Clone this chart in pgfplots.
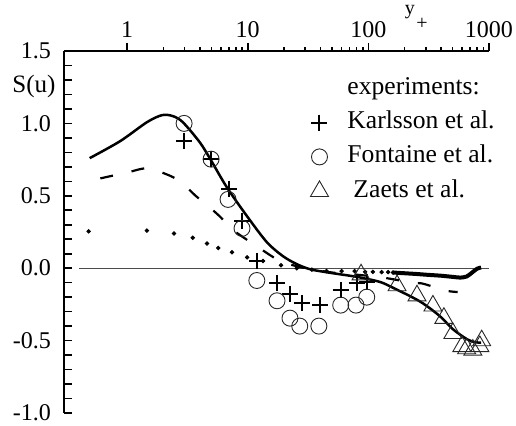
\documentclass[border=0pt]{standalone}
\usepackage{fontspec}
\setmainfont{Liberation Serif}
\usepackage{pgfplots}
\pgfplotsset{compat=1.18}
\pgfplotsset{mylegimg/.style={legend image code/.code={\path[draw=none] (-6pt,0pt) -- (12.5pt,0pt); \draw[##1] plot coordinates {(0pt,0pt)};}}}
\begin{document}
\begin{tikzpicture}
\useasboundingbox (0pt,0pt) rectangle (258pt,213pt);
\begin{axis}[
  at={(32pt,6.5pt)}, anchor=south west,
  width=212.5pt, height=181pt, scale only axis,
  xmode=log, xmin=0.3, xmax=1000, ymin=-1, ymax=1.5,
  axis x line=top, axis y line=left,
  axis line style={-, line width=1.1pt},
  xtick align=outside, ytick align=inside,
  xtick={1,10,100,1000}, xticklabels={1,10,100,1000},
  ytick={-1,-0.9,-0.8,-0.7,-0.6,-0.5,-0.4,-0.3,-0.2,-0.1,0,0.1,0.2,0.3,0.4,0.5,0.6,0.7,0.8,0.9,1,1.1,1.2,1.3,1.4,1.5},
  yticklabels={-1.0,,,,,-0.5,,,,,0.0,,,,,0.5,,,,,1.0,,,,,1.5},
  major tick length=4pt, minor tick length=2pt,
  every tick/.style={black, line width=0.8pt},
  tick label style={font=\fontsize{12}{14}\selectfont},
  yticklabel style={xshift=-3pt},
  xticklabel style={yshift=-1pt},
  clip=false,
  legend style={at={(0.572,0.94)}, anchor=north west, draw=none, fill=none,
    font=\fontsize{12.8}{15}\selectfont, inner sep=0pt, row sep=2.2pt,
    nodes={text height=9pt, text depth=3pt, inner sep=1.5pt}},
  legend cell align=left,
]
% thin zero line
\addplot[forget plot, black!70, line width=0.35pt] coordinates {(0.4,0) (1000,0)};
\addlegendimage{empty legend}
\addlegendentry{experiments:}
% solid model
\addplot[forget plot, black, line width=1.25pt, smooth, tension=0.5] coordinates {
(0.49,0.76) (0.875,0.877) (1.46,1.008) (1.95,1.057) (2.4,1.05) (2.9,1.008)
(4.0,0.87) (4.9,0.753) (6.7,0.56) (9.85,0.36) (14.4,0.18) (19.6,0.083)
(25.5,0.028) (32.8,-0.007) (45,-0.028) (74,-0.055) (90,-0.068) (125,-0.095)
(160,-0.135) (268,-0.23) (390,-0.33) (500,-0.42) (655,-0.49) (760,-0.51) (860,-0.515)};
% dashed model
\addplot[forget plot, black, line width=1.1pt, dash pattern=on 6.5pt off 9.5pt, smooth, tension=0.5] coordinates {
(0.6,0.62) (0.77,0.64) (1.0,0.66) (1.46,0.69) (2.1,0.65) (2.75,0.60) (3.7,0.50) (4.4,0.45)
(6.0,0.35) (7.1,0.28) (10.1,0.19) (12.2,0.145) (17.5,0.06) (21.6,0.03) (30,0.0)
(50,-0.03) (80,-0.045) (120,-0.06) (157,-0.075) (230,-0.1) (277,-0.105) (350,-0.13)
(430,-0.155) (550,-0.165)};
% dotted model: sparse dots
\addplot[forget plot, only marks, mark=*, mark size=0.9pt, black] coordinates {
(0.48,0.255) (1.46,0.26) (2.45,0.24) (3.5,0.21) (4.6,0.17) (5.7,0.14) (7.4,0.11)
(9.9,0.075) (13.4,0.05) (18.9,0.02) (25.5,0.0) (34,-0.01) (45,-0.02) (60,-0.02)
(77,-0.02) (94,-0.025) (109,-0.025) (129,-0.027) (146,-0.027) (160,-0.03)};
% dotted model: dense part (dots merge)
\addplot[forget plot, black, line width=2pt, smooth, tension=0.5] coordinates {
(160,-0.03) (200,-0.035) (250,-0.04) (300,-0.045) (400,-0.052) (500,-0.06)
(580,-0.065) (650,-0.058) (700,-0.04) (750,-0.02) (800,-0.003) (860,0.005)};
% Karlsson
\addplot[only marks, mark=+, mark size=4pt, line width=1pt, black, mylegimg] coordinates {
(2.97,0.875) (4.97,0.753) (7.0,0.55) (8.97,0.325) (11.9,0.05) (17.5,-0.10)
(22.4,-0.18) (28,-0.24) (40,-0.255) (59,-0.15) (80,-0.10) (97,-0.095)};
\addlegendentry{Karlsson et al.}
% Fontaine
\addplot[only marks, mark=o, mark size=4pt, line width=0.45pt, black!85, mylegimg] coordinates {
(2.97,1.0) (4.97,0.753) (6.87,0.475) (8.97,0.275) (11.9,-0.085) (17.5,-0.225)
(22.4,-0.345) (27,-0.40) (38.9,-0.40) (59,-0.255) (79,-0.255) (97,-0.20)};
\addlegendentry{Fontaine et al.}
% Zaets
\addplot[only marks, mark=triangle, mark size=5.2pt, line width=0.45pt, black!85, mylegimg] coordinates {
(87,-0.045) (173,-0.12) (253,-0.19) (343,-0.26) (423,-0.345) (502,-0.45)
(596,-0.54) (653,-0.555) (735,-0.565) (840,-0.54) (870,-0.50)};
\addlegendentry{\hspace{3pt}Zaets et al.}
\end{axis}
\node[font=\fontsize{12.5}{14}\selectfont] at (17pt,169.5pt) {S(u)};
\node[font=\fontsize{10}{12}\selectfont] at (205pt,207pt) {y};
\node[font=\fontsize{10}{12}\selectfont] at (211pt,201pt) {+};
\end{tikzpicture}
\end{document}
